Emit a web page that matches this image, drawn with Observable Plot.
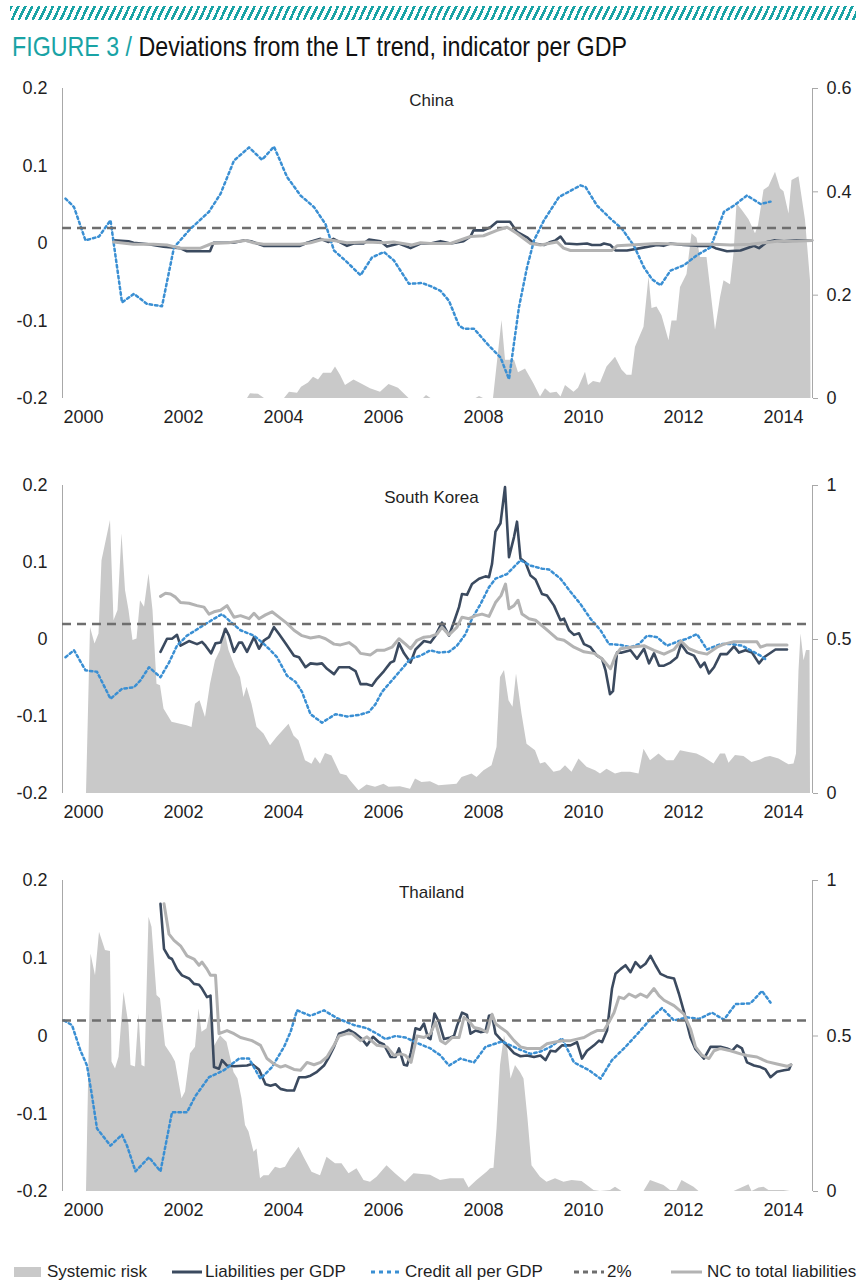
<!DOCTYPE html>
<html><head><meta charset="utf-8">
<script src="https://cdn.jsdelivr.net/npm/d3@7"></script>
<script src="https://cdn.jsdelivr.net/npm/@observablehq/plot@0.6"></script>
<style>
body{margin:0;background:#fff;font-family:"Liberation Sans",Arial,sans-serif;color:#1f1f1f;}
#page{position:relative;width:859px;height:1283px;overflow:hidden;background:#fff;}
.stripes{position:absolute;left:10px;top:6px;width:846px;height:14px;background:repeating-linear-gradient(115deg,#19a3a5 0 2.6px,transparent 2.6px 6.3px);}
.title{position:absolute;left:12px;top:32px;font-size:28.5px;line-height:1;white-space:nowrap;transform:scaleX(0.815);transform-origin:left top;color:#111;}
.title .fig{color:#19a3a5}
.panel{position:absolute;left:0;width:859px;}
.panel svg{position:absolute;left:0;top:0;}
.leg{position:absolute;top:1261px;height:22px;line-height:22px;font-size:17px;white-space:nowrap;color:#1f1f1f;}
.leg svg{position:absolute;top:0;}
</style>
</head><body>
<div id="page">
  <div class="stripes"></div>
  <div class="title"><span class="fig">FIGURE 3 /</span> Deviations from the LT trend, indicator per GDP</div>
  <div class="panel" id="p1" style="top:68px"></div>
  <div class="panel" id="p2" style="top:465px"></div>
  <div class="panel" id="p3" style="top:860px"></div>
  <div id="legend"></div>
</div>
<script>
// ---------- tick labels ----------
const years = [2000, 2002, 2004, 2006, 2008, 2010, 2012, 2014];
const leftTicks = [-0.2, -0.1, 0, 0.1, 0.2];
const chinaRightTicks = [0, 0.2, 0.4, 0.6];
const otherRightTicks = [0, 0.5, 1];
const seriesNames = ["Systemic risk", "Liabilities per GDP", "Credit all per GDP", "2%", "NC to total liabilities"];
const threshold = [0.02];

// ---------- China ----------
const chinaRisk = [[2000.06,0],[2003.28,0],[2003.34,0.009],[2003.5,0.008],[2003.62,0],[2004.02,0],[2004.12,0.012],[2004.28,0.01],[2004.36,0.022],[2004.5,0.03],[2004.6,0.041],[2004.7,0.036],[2004.8,0.049],[2004.96,0.049],[2005.04,0.061],[2005.14,0.045],[2005.24,0.025],[2005.41,0.036],[2005.6,0.026],[2005.74,0.019],[2005.94,0.012],[2006.11,0.027],[2006.3,0.02],[2006.51,0],[2006.8,0],[2006.86,0.006],[2006.95,0],[2007.85,0],[2007.92,0.004],[2008.0,0],[2008.2,0],[2008.37,0.151],[2008.44,0.074],[2008.62,0.074],[2008.7,0.05],[2008.84,0.057],[2009.01,0.028],[2009.14,0.003],[2009.24,0.019],[2009.34,0.01],[2009.47,0.012],[2009.55,0.003],[2009.64,0.025],[2009.81,0.012],[2009.9,0.02],[2010.04,0.051],[2010.1,0.025],[2010.2,0.033],[2010.34,0.03],[2010.47,0.061],[2010.64,0.08],[2010.77,0.055],[2010.87,0.045],[2010.97,0.045],[2011.04,0.099],[2011.21,0.138],[2011.31,0.235],[2011.37,0.174],[2011.47,0.177],[2011.57,0.16],[2011.71,0.112],[2011.77,0.15],[2011.87,0.15],[2011.94,0.215],[2012.07,0.24],[2012.17,0.319],[2012.27,0.31],[2012.34,0.273],[2012.47,0.273],[2012.64,0.132],[2012.74,0.195],[2012.81,0.228],[2012.94,0.22],[2013.01,0.28],[2013.07,0.377],[2013.17,0.365],[2013.31,0.346],[2013.44,0.319],[2013.5,0.335],[2013.61,0.403],[2013.71,0.41],[2013.84,0.438],[2013.94,0.406],[2014.01,0.4],[2014.11,0.357],[2014.17,0.422],[2014.31,0.429],[2014.44,0.345],[2014.54,0.228],[2014.55,0]];
const chinaLiab = [[2000.6,0.004],[2000.9,0.003],[2001.0,0.001],[2001.3,-0.001],[2001.6,-0.004],[2001.93,-0.006],[2002.07,-0.01],[2002.53,-0.01],[2002.6,0.001],[2003.0,0.001],[2003.2,0.004],[2003.35,0.003],[2003.6,-0.003],[2004.33,-0.003],[2004.47,0.001],[2004.74,0.006],[2004.9,0.002],[2005.0,0.006],[2005.27,-0.003],[2005.4,0.0],[2005.6,0.0],[2005.71,0.005],[2005.94,0.003],[2006.07,-0.004],[2006.31,0.0],[2006.54,-0.006],[2006.74,0.0],[2006.94,0.0],[2007.14,0.003],[2007.34,0.0],[2007.6,0.003],[2007.74,0.009],[2007.8,0.017],[2008.0,0.017],[2008.14,0.021],[2008.27,0.028],[2008.53,0.028],[2008.67,0.015],[2008.87,0.008],[2009.01,0.0],[2009.21,-0.002],[2009.34,0.002],[2009.44,0.004],[2009.54,0.009],[2009.64,0.0],[2009.87,-0.001],[2010.07,0.0],[2010.17,-0.002],[2010.34,-0.002],[2010.41,0.0],[2010.54,-0.002],[2010.64,-0.009],[2010.87,-0.009],[2011.14,-0.006],[2011.47,-0.002],[2011.6,-0.003],[2011.74,0.0],[2012.0,-0.002],[2012.27,-0.003],[2012.54,-0.003],[2012.64,-0.006],[2012.87,-0.01],[2013.14,-0.009],[2013.41,-0.003],[2013.51,-0.006],[2013.67,0.002],[2013.81,0.004],[2014.01,0.003],[2014.27,0.004],[2014.57,0.004]];
const chinaCredit = [[1999.64,0.058],[1999.81,0.047],[2000.04,0.004],[2000.31,0.009],[2000.54,0.03],[2000.77,-0.076],[2001.01,-0.065],[2001.27,-0.078],[2001.57,-0.081],[2001.81,-0.005],[2002.14,0.019],[2002.51,0.041],[2002.74,0.064],[2003.01,0.107],[2003.31,0.124],[2003.57,0.108],[2003.81,0.125],[2004.07,0.086],[2004.34,0.062],[2004.61,0.047],[2004.84,0.025],[2005.01,-0.009],[2005.27,-0.024],[2005.54,-0.041],[2005.77,-0.018],[2006.01,-0.011],[2006.21,-0.022],[2006.51,-0.052],[2006.77,-0.051],[2006.94,-0.055],[2007.14,-0.061],[2007.31,-0.074],[2007.51,-0.106],[2007.61,-0.11],[2007.81,-0.11],[2008.11,-0.132],[2008.34,-0.147],[2008.51,-0.175],[2008.71,-0.082],[2008.87,-0.031],[2009.01,0.004],[2009.21,0.03],[2009.51,0.06],[2009.74,0.068],[2009.94,0.075],[2010.04,0.073],[2010.27,0.049],[2010.54,0.032],[2010.77,0.019],[2011.01,-0.003],[2011.21,-0.031],[2011.37,-0.046],[2011.54,-0.054],[2011.74,-0.035],[2012.01,-0.028],[2012.27,-0.015],[2012.54,-0.005],[2012.67,0.017],[2012.81,0.041],[2013.01,0.049],[2013.27,0.062],[2013.54,0.051],[2013.74,0.054]];
const chinaNC = [[2000.6,0.002],[2001.0,-0.001],[2001.4,-0.001],[2001.67,-0.002],[2001.93,-0.006],[2002.34,-0.006],[2002.57,0.0],[2002.9,0.001],[2003.24,0.004],[2003.4,0.001],[2003.6,-0.001],[2004.33,-0.001],[2004.54,0.001],[2004.77,0.005],[2005.0,0.004],[2005.27,0.001],[2005.67,0.002],[2006.0,0.001],[2006.2,0.002],[2006.57,-0.002],[2006.74,0.001],[2006.94,0.0],[2007.34,0.0],[2007.74,0.009],[2008.0,0.01],[2008.27,0.017],[2008.47,0.021],[2008.67,0.013],[2008.94,0.0],[2009.14,-0.002],[2009.47,0.002],[2009.6,-0.006],[2009.74,-0.009],[2010.27,-0.009],[2010.57,-0.009],[2010.67,-0.003],[2010.94,-0.002],[2011.47,0.0],[2012.0,-0.001],[2012.6,-0.001],[2012.94,-0.002],[2013.34,-0.001],[2013.61,0.001],[2013.87,0.003],[2014.2,0.003],[2014.57,0.004]];

// ---------- South Korea ----------
const koreaRisk = [[2000.06,0],[2000.14,0.539],[2000.23,0.485],[2000.31,0.518],[2000.37,0.756],[2000.54,0.886],[2000.61,0.561],[2000.69,0.594],[2000.77,0.843],[2000.84,0.659],[2000.91,0.594],[2000.99,0.497],[2001.07,0.502],[2001.14,0.626],[2001.22,0.605],[2001.31,0.713],[2001.39,0.594],[2001.47,0.355],[2001.54,0.35],[2001.61,0.274],[2001.77,0.231],[2001.94,0.225],[2002.07,0.22],[2002.17,0.214],[2002.24,0.29],[2002.33,0.301],[2002.44,0.247],[2002.54,0.355],[2002.64,0.431],[2002.74,0.464],[2002.81,0.539],[2002.91,0.464],[2003.04,0.41],[2003.14,0.377],[2003.21,0.312],[2003.27,0.345],[2003.37,0.29],[2003.47,0.215],[2003.61,0.193],[2003.74,0.155],[2003.87,0.182],[2004.11,0.225],[2004.21,0.187],[2004.31,0.171],[2004.44,0.106],[2004.57,0.095],[2004.64,0.117],[2004.74,0.095],[2004.84,0.13],[2004.97,0.122],[2005.14,0.063],[2005.27,0.058],[2005.34,0.041],[2005.51,0.009],[2005.67,0.028],[2005.84,0.02],[2006.01,0.03],[2006.11,0.02],[2006.34,0.022],[2006.54,0.014],[2006.64,0.047],[2006.77,0.036],[2006.94,0.038],[2007.11,0.025],[2007.47,0.03],[2007.57,0.052],[2007.77,0.063],[2007.87,0.052],[2008.01,0.074],[2008.17,0.09],[2008.27,0.149],[2008.34,0.377],[2008.42,0.399],[2008.51,0.301],[2008.59,0.28],[2008.66,0.388],[2008.77,0.258],[2008.87,0.16],[2009.04,0.139],[2009.14,0.096],[2009.24,0.101],[2009.41,0.069],[2009.54,0.074],[2009.64,0.09],[2009.77,0.069],[2009.91,0.112],[2010.07,0.085],[2010.24,0.074],[2010.34,0.063],[2010.47,0.079],[2010.64,0.063],[2010.77,0.069],[2010.94,0.069],[2011.11,0.063],[2011.21,0.144],[2011.34,0.106],[2011.51,0.128],[2011.67,0.106],[2011.81,0.106],[2011.94,0.139],[2012.11,0.133],[2012.27,0.128],[2012.41,0.117],[2012.61,0.096],[2012.74,0.128],[2012.84,0.128],[2012.91,0.098],[2013.04,0.123],[2013.21,0.12],[2013.37,0.101],[2013.54,0.109],[2013.64,0.117],[2013.74,0.12],[2013.91,0.112],[2014.11,0.093],[2014.21,0.096],[2014.26,0.128],[2014.31,0.399],[2014.35,0.518],[2014.41,0.431],[2014.46,0.464],[2014.53,0.464],[2014.54,0]];
const koreaLiab = [[2001.54,-0.016],[2001.67,0.001],[2001.77,0.001],[2001.87,0.006],[2001.94,-0.008],[2002.11,-0.002],[2002.27,-0.006],[2002.37,-0.003],[2002.44,-0.008],[2002.55,-0.018],[2002.64,-0.005],[2002.74,-0.004],[2002.84,0.014],[2002.91,0.005],[2003.01,-0.016],[2003.11,-0.004],[2003.17,-0.004],[2003.27,-0.016],[2003.41,0.003],[2003.51,-0.012],[2003.61,-0.001],[2003.71,0.003],[2003.81,0.016],[2003.91,0.007],[2004.04,-0.005],[2004.21,-0.021],[2004.31,-0.023],[2004.44,-0.036],[2004.54,-0.031],[2004.67,-0.032],[2004.77,-0.031],[2004.87,-0.038],[2005.01,-0.045],[2005.11,-0.036],[2005.31,-0.036],[2005.44,-0.041],[2005.54,-0.058],[2005.67,-0.058],[2005.77,-0.06],[2005.87,-0.051],[2006.01,-0.041],[2006.14,-0.03],[2006.21,-0.028],[2006.31,-0.005],[2006.41,-0.018],[2006.54,-0.03],[2006.64,-0.013],[2006.81,-0.002],[2006.94,-0.004],[2007.04,0.005],[2007.17,0.022],[2007.31,0.005],[2007.41,0.023],[2007.51,0.042],[2007.57,0.059],[2007.67,0.058],[2007.77,0.072],[2007.91,0.079],[2008.04,0.082],[2008.11,0.081],[2008.17,0.098],[2008.24,0.14],[2008.34,0.151],[2008.43,0.198],[2008.51,0.107],[2008.61,0.133],[2008.67,0.153],[2008.74,0.105],[2008.84,0.1],[2008.94,0.083],[2009.04,0.078],[2009.17,0.059],[2009.27,0.057],[2009.41,0.044],[2009.54,0.025],[2009.61,0.027],[2009.71,0.012],[2009.81,0.006],[2009.91,0.008],[2010.01,-0.006],[2010.14,-0.01],[2010.27,-0.021],[2010.37,-0.025],[2010.44,-0.04],[2010.53,-0.071],[2010.59,-0.067],[2010.67,-0.017],[2010.77,-0.017],[2010.94,-0.014],[2011.07,-0.025],[2011.21,-0.012],[2011.31,-0.031],[2011.41,-0.018],[2011.51,-0.034],[2011.61,-0.034],[2011.74,-0.03],[2011.87,-0.023],[2011.95,-0.006],[2012.07,-0.017],[2012.21,-0.021],[2012.34,-0.036],[2012.42,-0.03],[2012.51,-0.044],[2012.61,-0.036],[2012.74,-0.019],[2012.87,-0.019],[2013.01,-0.009],[2013.11,-0.017],[2013.24,-0.014],[2013.37,-0.017],[2013.51,-0.031],[2013.61,-0.023],[2013.84,-0.013],[2014.07,-0.013]];
const koreaCredit = [[1999.64,-0.023],[1999.81,-0.014],[2000.04,-0.04],[2000.27,-0.042],[2000.54,-0.077],[2000.77,-0.064],[2001.01,-0.062],[2001.14,-0.053],[2001.31,-0.036],[2001.54,-0.049],[2001.71,-0.03],[2001.87,-0.008],[2002.07,0.005],[2002.34,0.016],[2002.61,0.027],[2002.77,0.033],[2002.94,0.023],[2003.14,0.012],[2003.41,0.005],[2003.61,-0.006],[2003.74,-0.014],[2003.87,-0.023],[2004.07,-0.047],[2004.24,-0.055],[2004.37,-0.068],[2004.54,-0.097],[2004.77,-0.108],[2005.04,-0.097],[2005.27,-0.1],[2005.51,-0.098],[2005.71,-0.094],[2005.84,-0.084],[2005.97,-0.068],[2006.17,-0.053],[2006.37,-0.038],[2006.54,-0.025],[2006.74,-0.021],[2006.94,-0.014],[2007.11,-0.017],[2007.31,-0.016],[2007.47,-0.008],[2007.64,0.007],[2007.77,0.027],[2007.94,0.046],[2008.11,0.068],[2008.24,0.079],[2008.47,0.085],[2008.74,0.103],[2008.94,0.096],[2009.17,0.092],[2009.31,0.091],[2009.54,0.079],[2009.74,0.062],[2009.94,0.046],[2010.14,0.027],[2010.34,0.012],[2010.51,-0.006],[2010.74,-0.007],[2010.94,-0.01],[2011.11,-0.006],[2011.27,0.005],[2011.47,0.003],[2011.67,-0.008],[2011.91,-0.002],[2012.07,0.001],[2012.27,0.007],[2012.47,-0.013],[2012.74,-0.006],[2012.97,-0.006],[2013.17,-0.008],[2013.34,-0.014],[2013.54,-0.021],[2013.67,-0.027]];
const koreaNC = [[2001.54,0.056],[2001.64,0.06],[2001.74,0.059],[2001.84,0.055],[2001.94,0.048],[2002.11,0.047],[2002.27,0.044],[2002.41,0.042],[2002.51,0.033],[2002.61,0.036],[2002.74,0.038],[2002.87,0.044],[2003.01,0.029],[2003.14,0.031],[2003.31,0.027],[2003.41,0.034],[2003.51,0.027],[2003.64,0.032],[2003.77,0.036],[2003.91,0.029],[2004.07,0.021],[2004.21,0.012],[2004.37,0.005],[2004.54,0.002],[2004.71,0.004],[2004.84,0.001],[2005.01,-0.006],[2005.14,-0.007],[2005.31,-0.004],[2005.44,-0.01],[2005.54,-0.018],[2005.74,-0.02],[2005.87,-0.014],[2006.01,-0.014],[2006.17,-0.01],[2006.31,0.001],[2006.44,-0.006],[2006.54,-0.012],[2006.67,-0.001],[2006.81,0.003],[2006.94,0.004],[2007.07,0.007],[2007.17,0.016],[2007.31,0.006],[2007.47,0.016],[2007.57,0.029],[2007.71,0.027],[2007.84,0.031],[2007.97,0.033],[2008.11,0.03],[2008.24,0.048],[2008.35,0.057],[2008.44,0.072],[2008.51,0.04],[2008.61,0.044],[2008.69,0.051],[2008.77,0.033],[2008.91,0.027],[2009.04,0.025],[2009.24,0.014],[2009.47,0.001],[2009.61,-0.001],[2009.81,-0.01],[2010.01,-0.016],[2010.21,-0.018],[2010.37,-0.025],[2010.54,-0.038],[2010.64,-0.021],[2010.74,-0.012],[2010.94,-0.01],[2011.21,-0.008],[2011.41,-0.014],[2011.61,-0.019],[2011.81,-0.013],[2011.95,-0.002],[2012.11,-0.012],[2012.31,-0.017],[2012.47,-0.019],[2012.67,-0.01],[2012.81,-0.006],[2013.01,-0.003],[2013.27,-0.003],[2013.47,-0.003],[2013.54,-0.01],[2013.67,-0.007],[2014.07,-0.007]];

// ---------- Thailand ----------
const thaiRisk = [[2000.06,0],[2000.15,0.764],[2000.24,0.694],[2000.32,0.834],[2000.44,0.775],[2000.54,0.772],[2000.57,0.416],[2000.64,0.394],[2000.71,0.432],[2000.81,0.641],[2000.91,0.534],[2000.95,0.405],[2001.04,0.4],[2001.11,0.571],[2001.17,0.405],[2001.23,0.4],[2001.31,0.882],[2001.37,0.85],[2001.47,0.63],[2001.54,0.62],[2001.64,0.469],[2001.77,0.437],[2001.84,0.416],[2001.97,0.298],[2002.04,0.32],[2002.14,0.443],[2002.24,0.464],[2002.31,0.587],[2002.37,0.512],[2002.47,0.523],[2002.55,0.587],[2002.61,0.464],[2002.74,0.501],[2002.87,0.48],[2003.01,0.383],[2003.09,0.362],[2003.17,0.298],[2003.24,0.212],[2003.31,0.191],[2003.41,0.126],[2003.47,0.137],[2003.54,0.041],[2003.61,0.051],[2003.71,0.051],[2003.84,0.078],[2003.94,0.073],[2004.04,0.078],[2004.14,0.105],[2004.31,0.142],[2004.41,0.11],[2004.57,0.062],[2004.74,0.051],[2004.87,0.11],[2005.04,0.089],[2005.17,0.089],[2005.31,0.057],[2005.47,0.073],[2005.61,0.035],[2005.74,0.03],[2005.87,0.046],[2006.07,0.083],[2006.24,0.057],[2006.44,0.03],[2006.61,0.057],[2006.94,0.052],[2007.14,0.035],[2007.34,0.041],[2007.61,0.041],[2007.71,0.011],[2007.87,0.035],[2008.07,0.062],[2008.14,0.073],[2008.21,0.075],[2008.27,0.201],[2008.34,0.405],[2008.42,0.501],[2008.49,0.453],[2008.55,0.362],[2008.64,0.405],[2008.74,0.383],[2008.81,0.362],[2008.89,0.233],[2008.97,0.083],[2009.14,0.046],[2009.27,0.03],[2009.44,0.041],[2009.61,0.03],[2009.77,0.035],[2009.97,0.032],[2010.21,0.003],[2010.34,0],[2010.54,0.003],[2010.64,0.014],[2010.77,0],[2011.21,0],[2011.34,0.035],[2011.61,0.019],[2011.74,0.003],[2011.87,0.003],[2011.97,0.035],[2012.21,0.014],[2012.31,0],[2013.01,0],[2013.31,0.022],[2013.37,0],[2013.51,0.011],[2013.61,0.014],[2013.71,0.003],[2014.01,0.003],[2014.14,0]];
const thaiLiab = [[2001.54,0.17],[2001.61,0.112],[2001.71,0.101],[2001.77,0.099],[2001.87,0.086],[2001.97,0.078],[2002.11,0.074],[2002.21,0.067],[2002.31,0.066],[2002.37,0.061],[2002.47,0.05],[2002.54,0.052],[2002.61,-0.04],[2002.71,-0.042],[2002.77,-0.031],[2002.87,-0.038],[2003.01,-0.039],[2003.27,-0.038],[2003.37,-0.036],[2003.51,-0.043],[2003.64,-0.062],[2003.74,-0.064],[2003.84,-0.062],[2003.94,-0.068],[2004.07,-0.07],[2004.21,-0.07],[2004.31,-0.053],[2004.44,-0.053],[2004.54,-0.051],[2004.67,-0.046],[2004.81,-0.038],[2004.91,-0.027],[2005.01,-0.014],[2005.11,0.003],[2005.21,0.005],[2005.31,0.008],[2005.44,0.003],[2005.57,-0.004],[2005.67,-0.012],[2005.79,-0.001],[2005.91,-0.008],[2006.01,-0.011],[2006.14,-0.027],[2006.24,-0.027],[2006.31,-0.016],[2006.41,-0.037],[2006.47,-0.038],[2006.55,-0.021],[2006.64,0.01],[2006.73,0.008],[2006.81,0.016],[2006.89,-0.002],[2006.94,-0.004],[2007.02,0.029],[2007.11,0.018],[2007.21,-0.004],[2007.34,-0.002],[2007.41,0.0],[2007.47,0.013],[2007.57,0.03],[2007.67,0.027],[2007.74,0.003],[2007.84,0.007],[2007.94,0.005],[2008.04,0.006],[2008.11,0.026],[2008.17,0.027],[2008.24,0.003],[2008.34,-0.004],[2008.47,-0.012],[2008.61,-0.022],[2008.74,-0.026],[2008.87,-0.025],[2009.01,-0.027],[2009.14,-0.025],[2009.24,-0.031],[2009.34,-0.019],[2009.44,-0.02],[2009.57,-0.012],[2009.74,-0.012],[2009.87,-0.008],[2009.97,-0.029],[2010.07,-0.019],[2010.21,-0.012],[2010.31,-0.006],[2010.37,-0.008],[2010.47,0.007],[2010.57,0.061],[2010.64,0.08],[2010.74,0.086],[2010.84,0.091],[2010.94,0.082],[2011.04,0.095],[2011.14,0.088],[2011.24,0.093],[2011.34,0.103],[2011.44,0.091],[2011.54,0.08],[2011.67,0.076],[2011.81,0.074],[2011.91,0.054],[2012.01,0.031],[2012.14,-0.002],[2012.24,-0.017],[2012.41,-0.029],[2012.54,-0.014],[2012.74,-0.014],[2012.87,-0.016],[2012.97,-0.019],[2013.07,-0.012],[2013.17,-0.016],[2013.27,-0.034],[2013.41,-0.038],[2013.54,-0.04],[2013.64,-0.043],[2013.74,-0.053],[2013.87,-0.046],[2014.01,-0.044],[2014.11,-0.043],[2014.15,-0.037]];
const thaiCredit = [[1999.61,0.02],[1999.77,0.014],[1999.94,-0.019],[2000.07,-0.038],[2000.17,-0.077],[2000.27,-0.119],[2000.54,-0.141],[2000.77,-0.127],[2000.87,-0.141],[2001.04,-0.174],[2001.31,-0.156],[2001.54,-0.174],[2001.77,-0.098],[2002.07,-0.098],[2002.24,-0.077],[2002.51,-0.053],[2002.81,-0.044],[2003.11,-0.029],[2003.31,-0.029],[2003.54,-0.055],[2003.77,-0.04],[2004.01,-0.014],[2004.14,0.005],[2004.27,0.033],[2004.54,0.026],[2004.81,0.033],[2005.07,0.023],[2005.41,0.014],[2005.67,0.01],[2005.87,0.003],[2006.04,-0.004],[2006.24,0.0],[2006.44,-0.002],[2006.71,-0.01],[2006.94,-0.016],[2007.14,-0.025],[2007.31,-0.038],[2007.54,-0.029],[2007.81,-0.034],[2008.04,-0.014],[2008.37,-0.007],[2008.54,-0.012],[2008.71,-0.017],[2008.94,-0.023],[2009.14,-0.02],[2009.34,-0.014],[2009.57,-0.003],[2009.81,-0.034],[2010.11,-0.044],[2010.34,-0.055],[2010.57,-0.031],[2010.84,-0.014],[2011.11,0.005],[2011.37,0.024],[2011.57,0.036],[2011.81,0.02],[2012.07,0.024],[2012.31,0.022],[2012.57,0.03],[2012.81,0.021],[2013.04,0.041],[2013.34,0.042],[2013.57,0.058],[2013.74,0.043]];
const thaiNC = [[2001.61,0.17],[2001.71,0.131],[2001.81,0.123],[2001.94,0.116],[2002.07,0.103],[2002.21,0.099],[2002.31,0.091],[2002.37,0.095],[2002.47,0.086],[2002.54,0.078],[2002.64,0.078],[2002.71,0.003],[2002.87,0.007],[2003.01,0.003],[2003.14,-0.002],[2003.37,-0.006],[2003.54,-0.012],[2003.67,-0.029],[2003.81,-0.036],[2003.94,-0.04],[2004.04,-0.038],[2004.21,-0.043],[2004.34,-0.044],[2004.47,-0.034],[2004.61,-0.037],[2004.74,-0.034],[2004.87,-0.027],[2005.01,-0.012],[2005.11,0.0],[2005.27,0.003],[2005.37,0.003],[2005.54,-0.006],[2005.67,-0.001],[2005.87,-0.012],[2006.07,-0.014],[2006.21,-0.025],[2006.34,-0.023],[2006.44,-0.025],[2006.55,-0.034],[2006.67,0.0],[2006.81,-0.002],[2006.94,0.003],[2007.04,0.018],[2007.14,-0.006],[2007.24,-0.01],[2007.37,-0.002],[2007.51,-0.002],[2007.61,0.024],[2007.71,0.019],[2007.81,0.011],[2007.94,0.009],[2008.07,0.005],[2008.17,0.028],[2008.24,0.016],[2008.34,0.011],[2008.47,0.005],[2008.61,-0.006],[2008.74,-0.014],[2008.87,-0.016],[2009.01,-0.016],[2009.14,-0.016],[2009.27,-0.01],[2009.41,-0.008],[2009.57,-0.006],[2009.74,-0.006],[2009.87,-0.004],[2010.01,-0.002],[2010.14,0.003],[2010.27,0.007],[2010.41,0.007],[2010.51,0.018],[2010.61,0.03],[2010.71,0.05],[2010.81,0.048],[2010.91,0.054],[2011.04,0.05],[2011.14,0.054],[2011.27,0.05],[2011.41,0.061],[2011.51,0.052],[2011.61,0.046],[2011.81,0.039],[2012.01,0.028],[2012.14,0.009],[2012.24,-0.014],[2012.37,-0.025],[2012.51,-0.029],[2012.61,-0.019],[2012.74,-0.016],[2012.94,-0.019],[2013.14,-0.023],[2013.27,-0.025],[2013.47,-0.027],[2013.67,-0.033],[2013.87,-0.036],[2014.07,-0.039],[2014.15,-0.037]];

// ---------- drawing ----------
const X_DOMAIN = [1999.58, 2014.58];
const COL = {risk: "#c9c9c9", liab: "#3b4a5f", credit: "#3a8fd3", thr: "#6e6e6e", nc: "#b3b3b3", axis: "#a8a8a8"};
const FONT = '"Liberation Sans", Arial, sans-serif';

function drawPanel(el, {name, plotH, rightMax, rightTicks, risk, liab, credit, nc}) {
  const mt = 20, mb = 40;
  const common = {
    width: 859, height: mt + plotH + mb,
    marginLeft: 62, marginRight: 47, marginTop: mt, marginBottom: mb,
    style: {background: "transparent", fontFamily: FONT, fontSize: "18px", color: "#1f1f1f", overflow: "visible"}
  };
  const back = Plot.plot({
    ...common,
    x: {domain: X_DOMAIN, axis: null},
    y: {domain: [0, rightMax]},
    marks: [
      Plot.areaY(risk, {x: d => d[0], y: d => d[1], fill: COL.risk}),
      Plot.ruleX([X_DOMAIN[1]], {y1: 0, y2: rightMax, stroke: COL.axis}),
      Plot.axisY({anchor: "right", ticks: rightTicks, tickSize: 5, tickPadding: 9, tickFormat: d => String(d), stroke: COL.axis, label: null})
    ]
  });
  const front = Plot.plot({
    ...common,
    x: {domain: X_DOMAIN},
    y: {domain: [-0.2, 0.2]},
    marks: [
      Plot.ruleX([X_DOMAIN[0]], {y1: -0.2, y2: 0.2, stroke: COL.axis}),
      Plot.axisY({anchor: "left", ticks: leftTicks, tickSize: 0, tickPadding: 15, tickFormat: d => String(d), label: null}),
      Plot.axisX({anchor: "bottom", ticks: years, tickSize: 0, tickPadding: 12, tickFormat: d => String(d), label: null}),
      Plot.line(liab, {x: d => d[0], y: d => d[1], stroke: COL.liab, strokeWidth: 2.6}),
      Plot.line(credit, {x: d => d[0], y: d => d[1], stroke: COL.credit, strokeWidth: 2.5, strokeDasharray: "2.5,3"}),
      Plot.ruleY(threshold, {stroke: COL.thr, strokeWidth: 2.5, strokeDasharray: "9,6"}),
      Plot.line(nc, {x: d => d[0], y: d => d[1], stroke: COL.nc, strokeWidth: 3}),
      Plot.text([name], {text: d => d, frameAnchor: "top", dy: 5, dx: -6, fontSize: 17, fill: "#1f1f1f"})
    ]
  });
  el.appendChild(back);
  el.appendChild(front);
}

drawPanel(document.getElementById("p1"), {name: "China", plotH: 310, rightMax: 0.6, rightTicks: chinaRightTicks, risk: chinaRisk, liab: chinaLiab, credit: chinaCredit, nc: chinaNC});
drawPanel(document.getElementById("p2"), {name: "South Korea", plotH: 308, rightMax: 1, rightTicks: otherRightTicks, risk: koreaRisk, liab: koreaLiab, credit: koreaCredit, nc: koreaNC});
drawPanel(document.getElementById("p3"), {name: "Thailand", plotH: 311, rightMax: 1, rightTicks: otherRightTicks, risk: thaiRisk, liab: thaiLiab, credit: thaiCredit, nc: thaiNC});

// ---------- legend ----------
const legendPos = [{sw: 14, tx: 47}, {sw: 172, tx: 205}, {sw: 370, tx: 405}, {sw: 573, tx: 607}, {sw: 671, tx: 707}];
const swatches = [
  `<rect x="0" y="6" width="27" height="10" fill="${COL.risk}"/>`,
  `<line x1="0" x2="30" y1="11" y2="11" stroke="${COL.liab}" stroke-width="3"/>`,
  `<line x1="1" x2="31" y1="11" y2="11" stroke="${COL.credit}" stroke-width="3" stroke-dasharray="4,4"/>`,
  `<line x1="1" x2="31" y1="11" y2="11" stroke="${COL.thr}" stroke-width="3" stroke-dasharray="5,4"/>`,
  `<line x1="0" x2="31" y1="11" y2="11" stroke="${COL.nc}" stroke-width="3"/>`
];
const legend = document.getElementById("legend");
seriesNames.forEach((n, i) => {
  const s = document.createElement("div");
  s.className = "leg";
  s.style.left = legendPos[i].sw + "px";
  s.innerHTML = `<svg width="32" height="22">${swatches[i]}</svg>`;
  legend.appendChild(s);
  const t = document.createElement("div");
  t.className = "leg";
  t.style.left = legendPos[i].tx + "px";
  t.textContent = n;
  legend.appendChild(t);
});
</script>
</body></html>
